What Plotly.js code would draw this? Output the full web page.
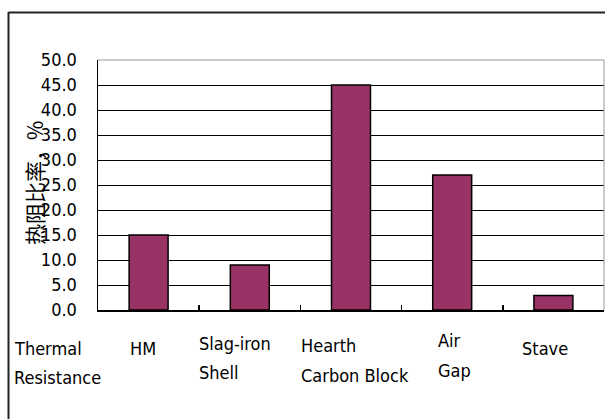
<!DOCTYPE html>
<html>
<head>
<meta charset="utf-8">
<script src="https://cdn.plot.ly/plotly-3.0.1.min.js"></script>
<style>html,body{margin:0;padding:0;background:#fff;}#chart{width:605px;height:419px;}</style>
</head>
<body>
<div id="chart"></div>
<script>
// ---- data ----
var categories = ["HM", "Slag-iron Shell", "Hearth Carbon Block", "Air Gap", "Stave"];
var values = [15.0, 9.0, 45.0, 27.0, 2.9];
var labelTop = ["HM", "Slag-iron", "Hearth", "Air", "Stave"];
var labelBottom = ["", "Shell", "Carbon Block", "Gap", ""];
var rowLabel = ["Thermal", "Resistance"];
var yTitle = "热阻比率，%";
var yTickVals = [0, 5, 10, 15, 20, 25, 30, 35, 40, 45, 50];
var yTickText = ["0.0", "5.0", "10.0", "15.0", "20.0", "25.0", "30.0", "35.0", "40.0", "45.0", "50.0"];

// ---- styling helpers (positions of text labels, in pixels) ----
var FONT = "'DejaVu Sans Condensed', 'Liberation Sans Narrow', Arial, sans-serif";
var FS = 18;
var topShift = [-21, -53, -52, -16, -33];
var topY = [38, 33, 35, 30, 38];
var botY = [0, 62, 65, 60, 0];

var annotations = [];
for (var i = 0; i < categories.length; i++) {
  annotations.push({
    x: categories[i], xref: "x", y: 0, yref: "paper",
    xanchor: "left", yanchor: "middle", xshift: topShift[i], yshift: -topY[i],
    text: labelTop[i], showarrow: false,
    font: {family: FONT, size: FS, color: "#000"}
  });
  if (labelBottom[i]) {
    annotations.push({
      x: categories[i], xref: "x", y: 0, yref: "paper",
      xanchor: "left", yanchor: "middle", xshift: topShift[i], yshift: -botY[i],
      text: labelBottom[i], showarrow: false,
      font: {family: FONT, size: FS, color: "#000"}
    });
  }
}
annotations.push({
  x: (12 - 98) / 506, xref: "paper", y: 0, yref: "paper",
  xanchor: "left", yanchor: "middle", yshift: -38,
  text: rowLabel[0], showarrow: false,
  font: {family: FONT, size: FS, color: "#000"}
});
annotations.push({
  x: (12 - 98) / 506, xref: "paper", y: 0, yref: "paper",
  xanchor: "left", yanchor: "middle", yshift: -67,
  text: rowLabel[1], showarrow: false,
  font: {family: FONT, size: FS, color: "#000"}
});
annotations.push({
  x: (34 - 98) / 506, xref: "paper", y: (310 - 183) / 250, yref: "paper",
  xanchor: "center", yanchor: "middle", textangle: -90,
  text: yTitle, showarrow: false,
  font: {family: "'Noto Sans CJK SC', sans-serif", size: 21, color: "#000"}
});

var trace = {
  type: "bar",
  x: categories,
  y: values,
  width: 0.385,
  marker: {color: "#993366", line: {color: "#000", width: 1.5}},
  hoverinfo: "skip"
};

var layout = {
  width: 605, height: 419,
  margin: {l: 98, r: 1, t: 60, b: 109, pad: 0},
  paper_bgcolor: "#fff", plot_bgcolor: "#fff",
  showlegend: false,
  bargap: 0.6,
  xaxis: {
    type: "category",
    showticklabels: false,
    ticks: "inside", tickson: "boundaries", ticklen: 5, tickcolor: "#000", tickwidth: 1.5,
    showgrid: false, zeroline: false,
    showline: true, linecolor: "#000", linewidth: 1.5,
    fixedrange: true
  },
  yaxis: {
    range: [0, 50],
    tickvals: yTickVals, ticktext: yTickText,
    ticks: "", ticklabelstandoff: 16,
    tickfont: {family: FONT, size: FS, color: "#000"},
    showgrid: true, gridcolor: "#000", gridwidth: 1,
    zeroline: false,
    showline: true, linecolor: "#000", linewidth: 1.5,
    fixedrange: true
  },
  annotations: annotations,
  shapes: [
    {type: "line", xref: "paper", yref: "paper", x0: 1, x1: 1, y0: 0, y1: 1, line: {color: "#999", width: 1}},
    {type: "line", xref: "paper", yref: "paper", x0: 0, x1: 1, y0: 1, y1: 1, line: {color: "#999", width: 1}},
    {type: "line", xref: "paper", yref: "paper", x0: (8.5 - 98) / 506, x1: (8.5 - 98) / 506, y0: (310 - 430) / 250, y1: (310 - 12) / 250, line: {color: "#222", width: 2}},
    {type: "line", xref: "paper", yref: "paper", x0: (8.5 - 98) / 506, x1: (620 - 98) / 506, y0: (310 - 12.5) / 250, y1: (310 - 12.5) / 250, line: {color: "#222", width: 2}}
  ]
};

Plotly.newPlot("chart", [trace], layout, {displayModeBar: false, staticPlot: true});
</script>
</body>
</html>
